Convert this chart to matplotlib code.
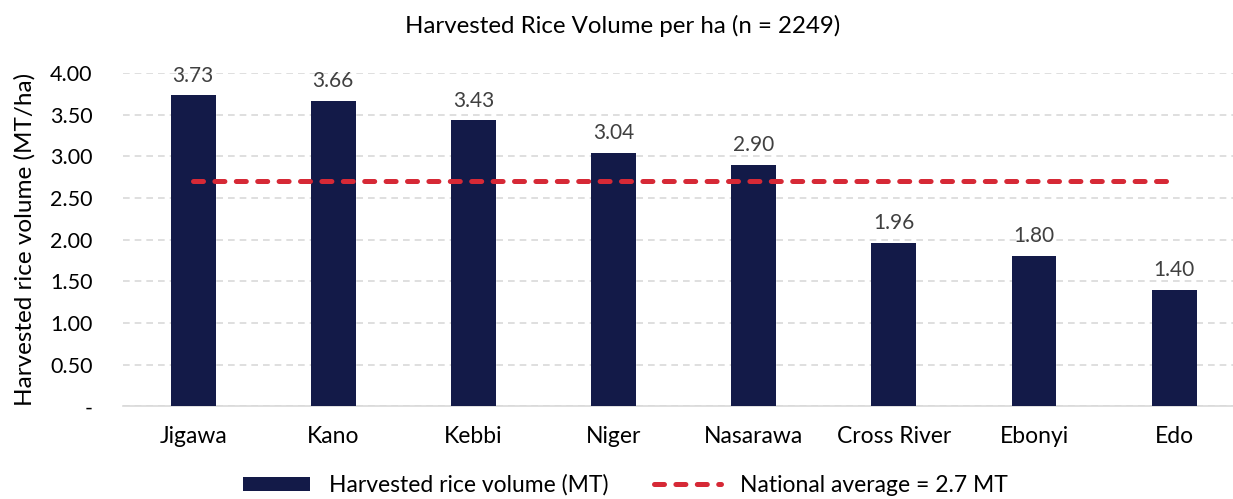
import numpy as np
import matplotlib.pyplot as plt
from matplotlib.ticker import FixedLocator, FuncFormatter

plt.rcParams["font.family"] = ["Lato", "DejaVu Sans"]

states = ["Jigawa", "Kano", "Kebbi", "Niger", "Nasarawa", "Cross River", "Ebonyi", "Edo"]
volume = [3.73, 3.66, 3.43, 3.04, 2.90, 1.96, 1.80, 1.40]
national_avg = 2.7
yticks = [0, 0.5, 1.0, 1.5, 2.0, 2.5, 3.0, 3.5, 4.0]

BAR = "#131a48"
RED = "#d62936"
TXT = "#404040"

fig = plt.figure(figsize=(12.33, 4.99), dpi=100)
ax = fig.add_axes([0.0998, 0.186, 0.9002, 0.668])

x = np.arange(len(states))
bars = ax.bar(x, volume, width=0.32, color=BAR, zorder=3,
              label="Harvested rice volume (MT)")
for xi, v in zip(x, volume):
    ax.annotate(f"{v:.2f}", (xi, v), xytext=(0, 7), textcoords="offset points",
                ha="center", va="bottom", fontsize=15, color=TXT)

line, = ax.plot([x[0], x[-1]], [national_avg] * 2, color=RED, lw=3.6,
                ls=(0, (2.0, 2.28)), dash_capstyle="round", zorder=4,
                label="National average = 2.7 MT")

ax.set_xlim(-0.5, 7.42)
ax.set_ylim(0, 4.0)
ax.yaxis.set_major_locator(FixedLocator(yticks))
ax.yaxis.set_major_formatter(FuncFormatter(lambda v, p: "-" if v == 0 else f"{v:.2f}"))
ax.grid(axis="y", color="#d9d9d9", ls=(0, (4, 3)), lw=1.2, zorder=0)
for s in ["top", "right", "left"]:
    ax.spines[s].set_visible(False)
ax.spines["bottom"].set_color("#d9d9d9")
ax.spines["bottom"].set_linewidth(1.2)
ax.tick_params(length=0)
ax.tick_params(axis="y", labelsize=15.5, pad=22, colors="black")
ax.tick_params(axis="x", labelsize=16.5, pad=14)
ax.set_xticks(x)
ax.set_xticklabels(states)
ax.set_ylabel("Harvested rice volume (MT/ha)", fontsize=17.5, labelpad=10)

fig.suptitle("Harvested Rice Volume per ha (n = 2249)", fontsize=17.3,
             x=0.505, y=0.97)

fig.legend([bars, line], [bars.get_label(), line.get_label()],
           loc="lower center", bbox_to_anchor=(0.507, -0.035), ncol=2,
           frameon=False, fontsize=16.5, handlelength=2.95, handleheight=0.55,
           columnspacing=2.0, handletextpad=0.8)

fig.savefig("out.png", dpi=100)
